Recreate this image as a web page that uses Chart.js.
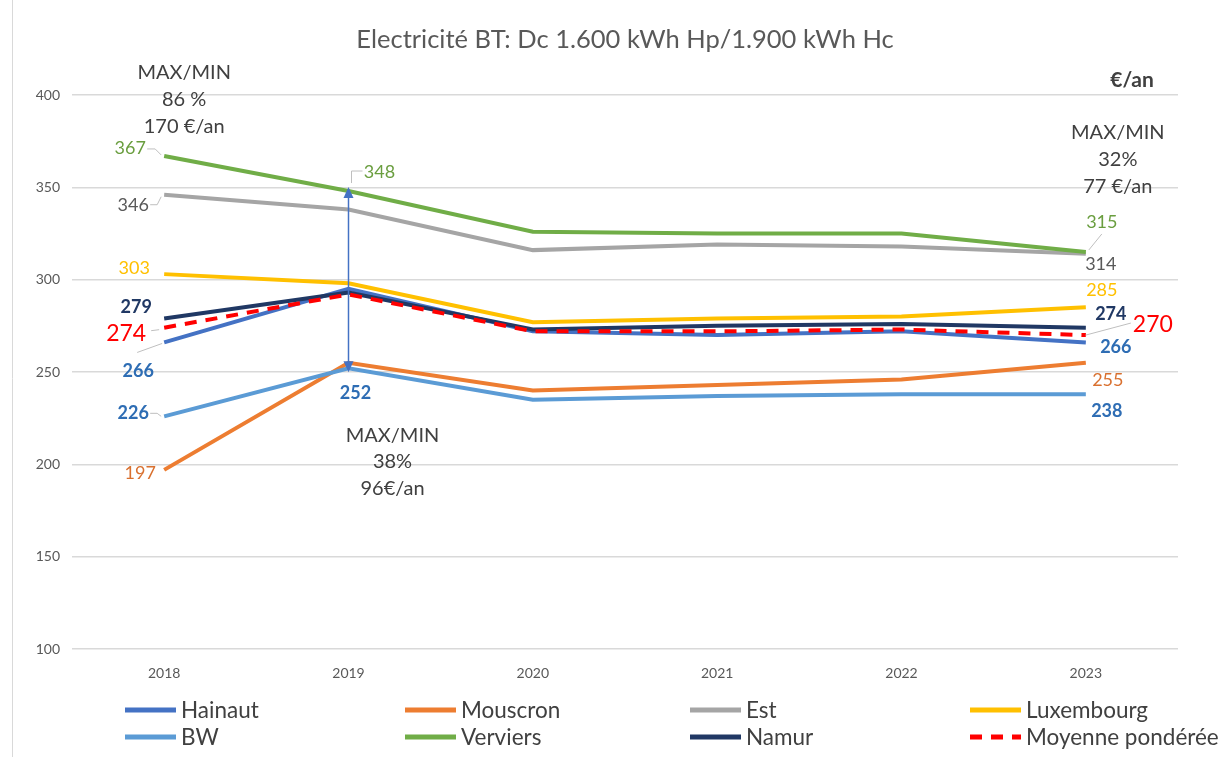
<!DOCTYPE html>
<html><head><meta charset="utf-8">
<script src="https://cdn.jsdelivr.net/npm/chart.js@4.4.1/dist/chart.umd.min.js"></script>
<style>html,body{margin:0;padding:0;background:#fff;}#wrap{width:1226px;height:757px;position:relative;}</style>
</head><body><div id="wrap"><canvas id="c" width="1226" height="757"></canvas></div>
<script>
const years = ['2018','2019','2020','2021','2022','2023'];
const hainaut    = [266, 295, 272, 270, 272, 266];
const mouscron   = [197, 255, 240, 243, 246, 255];
const est        = [346, 338, 316, 319, 318, 314];
const luxembourg = [303, 298, 277, 279, 280, 285];
const bw         = [226, 252, 235, 237, 238, 238];
const verviers   = [367, 348, 326, 325, 325, 315];
const namur      = [279, 293, 273, 275, 276, 274];
const moyenne    = [274, 292, 272, 272, 273, 270];
const yTicks = [100, 150, 200, 250, 300, 350, 400];
const title = 'Electricité BT: Dc 1.600 kWh Hp/1.900 kWh Hc';
const unitLabel = '€/an';
const maxMinNotes = [
  {year:'2018', lines:['MAX/MIN','86 %','170 €/an']},
  {year:'2019', lines:['MAX/MIN','38%','96€/an']},
  {year:'2023', lines:['MAX/MIN','32%','77 €/an']}
];

const FONT = 'Lato, "Open Sans", sans-serif';
const seriesDefs = [
  {label:'Hainaut', data:hainaut, color:'#4472C4'},
  {label:'Mouscron', data:mouscron, color:'#ED7D31'},
  {label:'Est', data:est, color:'#A5A5A5'},
  {label:'Luxembourg', data:luxembourg, color:'#FFC000'},
  {label:'BW', data:bw, color:'#5B9BD5'},
  {label:'Verviers', data:verviers, color:'#70AD47'},
  {label:'Namur', data:namur, color:'#203864'},
  {label:'Moyenne pondérée', data:moyenne, color:'#FF0000', dash:[12,9]}
];

// data label placements (dataset index, point index, offset, style)
const labelDefs = [
  {ds:5,i:0,dx:-34,dy:-8,c:'#6A9E3F',lead:[[-17,-7],[-9,-7],[-3,-1]]},
  {ds:2,i:0,dx:-31,dy:10,c:'#595959',lead:[[-14,10],[-7,10],[-3,2]]},
  {ds:3,i:0,dx:-30,dy:-6,c:'#FFC000'},
  {ds:6,i:0,dx:-28,dy:-11,c:'#203864',b:true},
  {ds:7,i:0,dx:-38,dy:6,c:'#FF0000',s:23,lead:[[-13,3],[-5,2]]},
  {ds:0,i:0,dx:-26,dy:29,c:'#2E6DB4',b:true,lead:[[-27,10],[-2,1]]},
  {ds:4,i:0,dx:-31,dy:-3,c:'#2E6DB4',b:true,lead:[[-14,-3],[-7,-3],[-3,0]]},
  {ds:1,i:0,dx:-24,dy:3,c:'#D9702F'},
  {ds:5,i:1,dx:31,dy:-19,c:'#6A9E3F',lead:[[14,-20],[3,-20],[3,-8]]},
  {ds:4,i:1,dx:7,dy:25,c:'#2E6DB4',b:true},
  {ds:5,i:5,dx:16,dy:-30,c:'#6A9E3F',lead:[[16,-18],[3,-2]]},
  {ds:2,i:5,dx:15,dy:10,c:'#595959'},
  {ds:3,i:5,dx:16,dy:-17,c:'#FFC000'},
  {ds:6,i:5,dx:25,dy:-13,c:'#203864',b:true},
  {ds:7,i:5,dx:67,dy:-10,c:'#FF0000',s:23,lead:[[45,-12],[0,0]]},
  {ds:0,i:5,dx:30,dy:5,c:'#2E6DB4',b:true},
  {ds:1,i:5,dx:22,dy:17,c:'#D9702F'},
  {ds:4,i:5,dx:21,dy:17,c:'#2E6DB4',b:true}
];
const noteOffsets = {'2018':{dx:20,y:[73,100,127]},'2019':{dx:44,y:[436,462,489]},'2023':{dx:32,y:[133,160,187]}};

const decorPlugin = {
  id:'decor',
  afterDraw(chart){
    const ctx = chart.ctx, xs = chart.scales.x, ys = chart.scales.y;
    ctx.save();
    // frame line
    ctx.strokeStyle='#D9D9D9'; ctx.lineWidth=1;
    ctx.beginPath(); ctx.moveTo(12.5,0); ctx.lineTo(12.5,757); ctx.stroke();
    // title
    ctx.fillStyle='#595959'; ctx.font='25.5px '+FONT; ctx.textAlign='center'; ctx.textBaseline='middle';
    ctx.fillText(title, 625, 40);
    ctx.fillStyle='#404040'; ctx.font='bold 21px '+FONT;
    ctx.fillText(unitLabel, 1132, 80);
    // MAX/MIN notes
    ctx.font='20px '+FONT; ctx.fillStyle='#404040';
    maxMinNotes.forEach(n=>{
      const o = noteOffsets[n.year];
      const x = xs.getPixelForValue(years.indexOf(n.year)) + o.dx;
      n.lines.forEach((t,k)=>ctx.fillText(t, x, o.y[k]));
    });
    // 2019 double arrow between max and min
    const i19 = 1;
    const vals19 = seriesDefs.slice(0,7).map(s=>s.data[i19]);
    const ax = xs.getPixelForValue(i19);
    const yTop = ys.getPixelForValue(Math.max(...vals19)) - 4;
    const yBot = ys.getPixelForValue(Math.min(...vals19)) + 4;
    ctx.strokeStyle='#4472C4'; ctx.fillStyle='#4472C4'; ctx.lineWidth=1.5;
    ctx.beginPath(); ctx.moveTo(ax, yTop+8); ctx.lineTo(ax, yBot-8); ctx.stroke();
    ctx.beginPath(); ctx.moveTo(ax, yTop); ctx.lineTo(ax-5, yTop+11); ctx.lineTo(ax+5, yTop+11); ctx.closePath(); ctx.fill();
    ctx.beginPath(); ctx.moveTo(ax, yBot); ctx.lineTo(ax-5, yBot-11); ctx.lineTo(ax+5, yBot-11); ctx.closePath(); ctx.fill();
    // data labels
    labelDefs.forEach(L=>{
      const v = seriesDefs[L.ds].data[L.i];
      const px = xs.getPixelForValue(L.i), py = ys.getPixelForValue(v);
      if (L.lead){
        ctx.strokeStyle='#BFBFBF'; ctx.lineWidth=1;
        ctx.beginPath();
        L.lead.forEach((p,k)=>{ if(k===0) ctx.moveTo(px+p[0],py+p[1]); else ctx.lineTo(px+p[0],py+p[1]); });
        ctx.stroke();
      }
      ctx.fillStyle=L.c;
      ctx.font=(L.b?'bold ':'')+(L.s||18)+'px '+FONT;
      ctx.textAlign='center'; ctx.textBaseline='middle';
      ctx.fillText(String(v), px+L.dx, py+L.dy);
    });
    // legend
    const cols=[125,405,690,970], rows=[710,737];
    ctx.font='22.5px '+FONT; ctx.textAlign='left'; ctx.textBaseline='middle';
    seriesDefs.forEach((s,k)=>{
      const x=cols[k%4], y=rows[Math.floor(k/4)];
      ctx.strokeStyle=s.color; ctx.lineWidth=5; ctx.lineCap='butt';
      ctx.setLineDash(s.dash?[12,9]:[]);
      ctx.beginPath(); ctx.moveTo(x,y); ctx.lineTo(x+51,y); ctx.stroke();
      ctx.setLineDash([]);
      ctx.fillStyle='#404040';
      ctx.fillText(s.label, x+56, y+1);
    });
    ctx.restore();
  }
};

new Chart(document.getElementById('c'), {
  type:'line',
  data:{
    labels:years,
    datasets:seriesDefs.map((s,k)=>({
      label:s.label, data:s.data, borderColor:s.color, backgroundColor:s.color,
      borderWidth:4, pointRadius:0, tension:0, borderDash:s.dash||[],
      order:7-k, fill:false
    }))
  },
  options:{
    responsive:false, animation:false, devicePixelRatio:1,
    layout:{padding:{left:0,right:48,top:95,bottom:68}},
    plugins:{legend:{display:false}, title:{display:false}, tooltip:{enabled:false}},
    scales:{
      x:{type:'category', offset:true, grid:{display:false}, border:{display:false},
         ticks:{color:'#595959', font:{family:FONT,size:14}, padding:8},
         afterFit(s){ s.height=40; }},
      y:{min:100,max:400, border:{display:false},
         grid:{color:'#D9D9D9', lineWidth:1.5, drawTicks:false},
         afterBuildTicks(s){ s.ticks = yTicks.map(v=>({value:v})); },
         ticks:{color:'#595959', font:{family:FONT,size:14}, padding:12},
         afterFit(s){ s.width=72; }}
    }
  },
  plugins:[decorPlugin]
});
</script></body></html>
